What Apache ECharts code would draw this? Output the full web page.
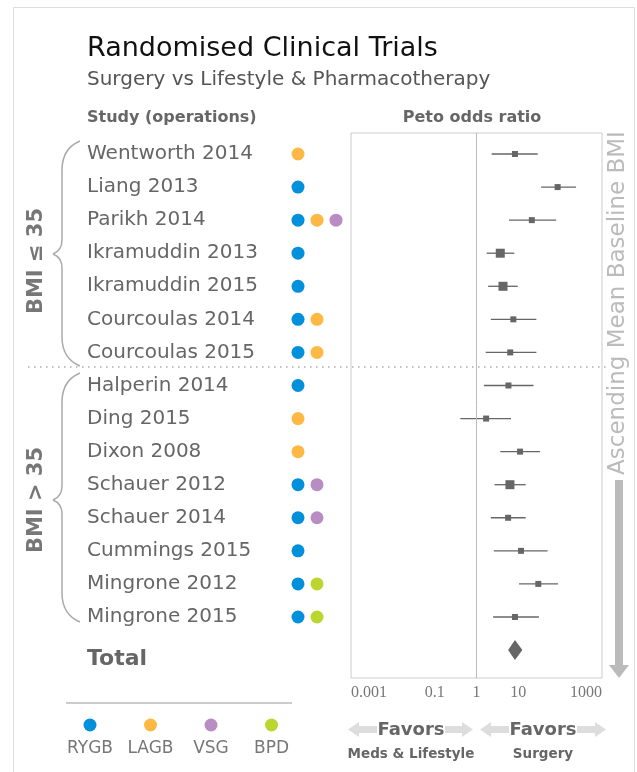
<!DOCTYPE html>
<html>
<head>
<meta charset="utf-8">
<script src="https://cdn.jsdelivr.net/npm/echarts@6/dist/echarts.min.js"></script>
<style>
  html, body { margin: 0; padding: 0; background: #fff; }
  #main { width: 637px; height: 772px; }
</style>
</head>
<body>
<div id="main"></div>
<script>
var studies = ['Wentworth 2014', 'Liang 2013', 'Parikh 2014', 'Ikramuddin 2013', 'Ikramuddin 2015',
    'Courcoulas 2014', 'Courcoulas 2015', 'Halperin 2014', 'Ding 2015', 'Dixon 2008',
    'Schauer 2012', 'Schauer 2014', 'Cummings 2015', 'Mingrone 2012', 'Mingrone 2015'];
// operations per study
var studyOps = [['LAGB'], ['RYGB'], ['RYGB', 'LAGB', 'VSG'], ['RYGB'], ['RYGB'],
    ['RYGB', 'LAGB'], ['RYGB', 'LAGB'], ['RYGB'], ['LAGB'], ['LAGB'],
    ['RYGB', 'VSG'], ['RYGB', 'VSG'], ['RYGB'], ['RYGB', 'BPD'], ['RYGB', 'BPD']];
// peto odds ratio + 95% CI
var oddsRatio = [8.3, 87, 21, 3.7, 4.3, 7.6, 6.4, 5.8, 1.7, 11, 6.3, 5.7, 11.6, 30, 8.3];
var ciLow = [2.3, 35, 6, 1.75, 1.9, 2.2, 1.66, 1.5, 0.41, 3.7, 2.7, 2.2, 2.6, 10.4, 2.5];
var ciHigh = [29, 240, 80, 8, 9.7, 27, 27, 23, 6.7, 33, 15, 15, 50, 89, 31];
var weight = [6, 6, 6, 9, 9, 6, 6, 6, 6, 6, 9, 6, 6, 6, 6];
var total = [8.3, 5.7, 12.5];
var operations = ['RYGB', 'LAGB', 'VSG', 'BPD'];
var opColors = ['#0090dc', '#fdb944', '#b98cc3', '#bcd630'];
var tickLabels = [0.001, 0.1, 1, 10, 1000];

var font = 'DejaVu Sans';
var rowMin = -0.635, rowMax = 15.845;

var forestData = [];
for (var i = 0; i < studies.length; i++) {
    forestData.push([i, oddsRatio[i], ciLow[i], ciHigh[i], weight[i]]);
}
var dotData = [];
studyOps.forEach(function (ops, row) {
    ops.forEach(function (op, slot) {
        var k = operations.indexOf(op);
        dotData.push({ value: [slot, row], itemStyle: { color: opColors[k] } });
    });
});
var legendData = operations.map(function (op, k) {
    return { value: [op, 0.5], itemStyle: { color: opColors[k] } };
});

// curly brace made of curves and lines
function brace(top, tip, bottom) {
    var st = { fill: 'none', stroke: '#aaa', lineWidth: 1.5 };
    return {
        type: 'group',
        children: [
            { type: 'bezierCurve', shape: { x1: 80, y1: top, cpx1: 68, cpy1: top + 5, cpx2: 62, cpy2: top + 14, x2: 62, y2: top + 29 }, style: st },
            { type: 'line', shape: { x1: 62, y1: top + 29, x2: 62, y2: tip - 14 }, style: st },
            { type: 'bezierCurve', shape: { x1: 62, y1: tip - 14, cpx1: 62, cpy1: tip - 6, cpx2: 58, cpy2: tip - 2, x2: 53, y2: tip }, style: st },
            { type: 'bezierCurve', shape: { x1: 53, y1: tip, cpx1: 58, cpy1: tip + 2, cpx2: 62, cpy2: tip + 6, x2: 62, y2: tip + 14 }, style: st },
            { type: 'line', shape: { x1: 62, y1: tip + 14, x2: 62, y2: bottom - 29 }, style: st },
            { type: 'bezierCurve', shape: { x1: 62, y1: bottom - 29, cpx1: 62, cpy1: bottom - 14, cpx2: 68, cpy2: bottom - 5, x2: 80, y2: bottom }, style: st }
        ]
    };
}

var myChart = echarts.init(document.getElementById('main'));
var option = {
    animation: false,
    textStyle: { fontFamily: font },
    title: [
        { text: 'Randomised Clinical Trials', left: 82, top: 30, padding: 5,
          textStyle: { fontFamily: font, fontSize: 27, fontWeight: 'normal', color: '#111' } },
        { text: 'Surgery vs Lifestyle & Pharmacotherapy', left: 82, top: 65, padding: 5,
          textStyle: { fontFamily: font, fontSize: 20, fontWeight: 'normal', color: '#555' } }
    ],
    grid: [
        { left: 351, right: 35, top: 133, bottom: 94, show: true, borderColor: '#ccc', borderWidth: 1 },
        { left: 288.5, right: 291.5, top: 133, bottom: 94 },
        { left: 59.75, right: 335.25, top: 715, bottom: 37 }
    ],
    xAxis: [
        {
            gridIndex: 0, type: 'log', logBase: 10, min: 0.001, max: 1000,
            axisLine: { show: false }, axisTick: { show: false }, splitLine: { show: false },
            axisLabel: {
                customValues: tickLabels,
                formatter: function (v) { return String(+v.toPrecision(3)); },
                fontFamily: 'Liberation Sans Narrow', fontSize: 16, color: '#777', margin: 7,
                alignMinLabel: 'left', alignMaxLabel: 'right'
            }
        },
        { gridIndex: 1, type: 'value', min: -0.5, max: 2.5, show: false },
        {
            gridIndex: 2, type: 'category', data: operations,
            axisLine: { show: false }, axisTick: { show: false },
            axisLabel: { interval: 0, hideOverlap: false, fontFamily: font, fontSize: 17, color: '#777', margin: 5 }
        }
    ],
    yAxis: [
        {
            gridIndex: 0, type: 'value', inverse: true, min: rowMin, max: rowMax,
            axisLine: { show: false }, axisTick: { show: false }, splitLine: { show: false },
            axisLabel: {
                customValues: studies.map(function (s, i) { return i; }).concat([15]),
                align: 'left', margin: 264,
                fontFamily: font, fontSize: 20, color: '#666',
                formatter: function (v) {
                    return v < studies.length ? studies[v] : '{t|Total}';
                },
                rich: { t: { fontFamily: font, fontSize: 22, fontWeight: 'bold', color: '#666', padding: [18, 0, 0, 0] } }
            }
        },
        { gridIndex: 1, type: 'value', inverse: true, min: rowMin, max: rowMax, show: false },
        { gridIndex: 2, type: 'value', min: 0, max: 1, show: false }
    ],
    series: [
        {
            type: 'custom', xAxisIndex: 0, yAxisIndex: 0,
            data: forestData,
            encode: { x: [1, 2, 3], y: 0 },
            renderItem: function (params, api) {
                var p = api.coord([api.value(1), api.value(0)]);
                var l = api.coord([api.value(2), api.value(0)]);
                var h = api.coord([api.value(3), api.value(0)]);
                var s = api.value(4);
                return {
                    type: 'group',
                    children: [
                        { type: 'line', shape: { x1: l[0], y1: l[1], x2: h[0], y2: h[1] },
                          style: { stroke: '#666', lineWidth: 1.3 } },
                        { type: 'rect', shape: { x: p[0] - s / 2, y: p[1] - s / 2, width: s, height: s },
                          style: { fill: '#666' } }
                    ]
                };
            },
            markLine: {
                silent: true, symbol: 'none', label: { show: false },
                lineStyle: { color: '#bbb', type: 'solid', width: 1 },
                data: [{ xAxis: 1 }]
            }
        },
        {
            type: 'custom', xAxisIndex: 0, yAxisIndex: 0,
            data: [[15, total[0], total[1], total[2]]],
            encode: { x: [1, 2, 3], y: 0 },
            renderItem: function (params, api) {
                var p = api.coord([api.value(1), api.value(0)]);
                var l = api.coord([api.value(2), api.value(0)]);
                var h = api.coord([api.value(3), api.value(0)]);
                return {
                    type: 'polygon',
                    shape: { points: [[l[0], p[1]], [p[0], p[1] - 10], [h[0], p[1]], [p[0], p[1] + 10]] },
                    style: { fill: '#666' }
                };
            }
        },
        {
            type: 'scatter', xAxisIndex: 1, yAxisIndex: 1,
            symbol: 'circle', symbolSize: 13, itemStyle: { opacity: 1 }, data: dotData
        },
        {
            type: 'scatter', xAxisIndex: 2, yAxisIndex: 2,
            symbol: 'circle', symbolSize: 13, itemStyle: { opacity: 1 }, data: legendData
        }
    ],
    graphic: [
        { type: 'rect', shape: { x: 13.5, y: 7.5, width: 621, height: 800 },
          style: { fill: 'none', stroke: '#ddd', lineWidth: 1 }, z: -1 },
        { type: 'text', x: 87, y: 118, style: { text: 'Study (operations)', fontFamily: font, fontSize: 16,
          fontWeight: 'bold', fill: '#666', textVerticalAlign: 'middle' } },
        { type: 'text', x: 472, y: 118, style: { text: 'Peto odds ratio', fontFamily: font, fontSize: 16,
          fontWeight: 'bold', fill: '#666', textAlign: 'center', textVerticalAlign: 'middle' } },
        { type: 'line', shape: { x1: 28, y1: 367, x2: 608, y2: 367 },
          style: { stroke: '#aaa', lineWidth: 1.5, lineDash: [1.5, 4.5] } },
        brace(141, 254, 366),
        brace(373, 500, 622),
        { type: 'text', x: 37, y: 261, rotation: Math.PI / 2,
          style: { text: 'BMI ≤ 35', fontFamily: font, fontSize: 21, fontWeight: 'bold', fill: '#777',
          textAlign: 'center', textVerticalAlign: 'middle' } },
        { type: 'text', x: 37, y: 500, rotation: Math.PI / 2,
          style: { text: 'BMI > 35', fontFamily: font, fontSize: 21, fontWeight: 'bold', fill: '#777',
          textAlign: 'center', textVerticalAlign: 'middle' } },
        { type: 'text', x: 618, y: 303, rotation: Math.PI / 2,
          style: { text: 'Ascending Mean Baseline BMI', fontFamily: font, fontSize: 23, fill: '#bbb',
          textAlign: 'center', textVerticalAlign: 'middle' } },
        { type: 'rect', shape: { x: 615, y: 480, width: 8, height: 186 }, style: { fill: '#bbb' } },
        { type: 'polygon', shape: { points: [[609, 665], [629, 665], [619, 678]] }, style: { fill: '#bbb' } },
        { type: 'line', shape: { x1: 66, y1: 703, x2: 292, y2: 703 }, style: { stroke: '#ccc', lineWidth: 2 } },
        // favors arrows
        { type: 'polygon', shape: { points: [[348, 729.5], [359, 722], [359, 726], [377, 726], [377, 733], [359, 733], [359, 737]] }, style: { fill: '#ddd' } },
        { type: 'polygon', shape: { points: [[473, 729.5], [462, 722], [462, 726], [445, 726], [445, 733], [462, 733], [462, 737]] }, style: { fill: '#ddd' } },
        { type: 'polygon', shape: { points: [[480, 729.5], [491, 722], [491, 726], [509, 726], [509, 733], [491, 733], [491, 737]] }, style: { fill: '#ddd' } },
        { type: 'polygon', shape: { points: [[606, 729.5], [595, 722], [595, 726], [577, 726], [577, 733], [595, 733], [595, 737]] }, style: { fill: '#ddd' } },
        { type: 'text', x: 411, y: 730, style: { text: 'Favors', fontFamily: font, fontSize: 18, fontWeight: 'bold',
          fill: '#666', textAlign: 'center', textVerticalAlign: 'middle' } },
        { type: 'text', x: 543, y: 730, style: { text: 'Favors', fontFamily: font, fontSize: 18, fontWeight: 'bold',
          fill: '#666', textAlign: 'center', textVerticalAlign: 'middle' } },
        { type: 'text', x: 411, y: 754, style: { text: 'Meds & Lifestyle', fontFamily: font, fontSize: 13.5, fontWeight: 'bold',
          fill: '#666', textAlign: 'center', textVerticalAlign: 'middle' } },
        { type: 'text', x: 543, y: 754, style: { text: 'Surgery', fontFamily: font, fontSize: 13.5, fontWeight: 'bold',
          fill: '#666', textAlign: 'center', textVerticalAlign: 'middle' } }
    ]
};
myChart.setOption(option);
</script>
</body>
</html>
